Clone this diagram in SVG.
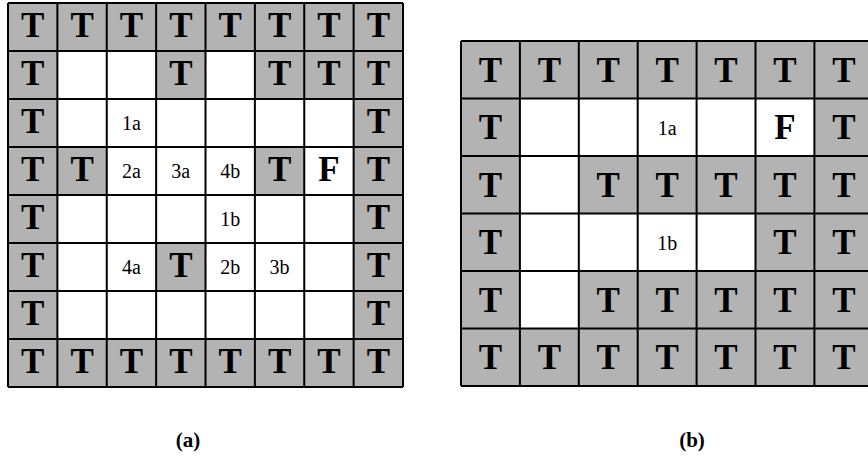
<svg xmlns="http://www.w3.org/2000/svg" width="868" height="456" viewBox="0 0 868 456">
<style>
.bg{fill:#ffffff}
.g{fill:#b3b3b3}
.ln{fill:none;stroke:#000;stroke-width:2}
</style>
<rect width="868" height="456" fill="#fff"/>
<g id="gridA">
<rect class="bg" x="8" y="3" width="395" height="384"/>
<rect class="g" x="8" y="3" width="395" height="48"/>
<rect class="g" x="8" y="339" width="395" height="48"/>
<rect class="g" x="8" y="3" width="49.38" height="384"/>
<rect class="g" x="353.63" y="3" width="49.38" height="384"/>
<rect class="g" x="156.13" y="51" width="49.38" height="48"/>
<rect class="g" x="254.88" y="51" width="148.13" height="48"/>
<rect class="g" x="8" y="147" width="98.75" height="48"/>
<rect class="g" x="254.88" y="147" width="49.38" height="48"/>
<rect class="g" x="156.13" y="243" width="49.38" height="48"/>
<path class="ln" d="M8,3V387M57.38,3V387M106.75,3V387M156.13,3V387M205.5,3V387M254.88,3V387M304.25,3V387M353.63,3V387M403,3V387M8,3H403M8,51H403M8,99H403M8,147H403M8,195H403M8,243H403M8,291H403M8,339H403M8,387H403"/>
<g font-family="Liberation Serif, Times New Roman, serif" font-weight="bold" font-size="35" text-anchor="middle" fill="#000">
<text x="32.69" y="37">T</text><text x="82.06" y="37">T</text><text x="131.44" y="37">T</text><text x="180.81" y="37">T</text><text x="230.19" y="37">T</text><text x="279.56" y="37">T</text><text x="328.94" y="37">T</text><text x="378.31" y="37">T</text>
<text x="32.69" y="85">T</text><text x="180.81" y="85">T</text><text x="279.56" y="85">T</text><text x="328.94" y="85">T</text><text x="378.31" y="85">T</text>
<text x="32.69" y="133">T</text><text x="378.31" y="133">T</text>
<text x="32.69" y="181">T</text><text x="82.06" y="181">T</text><text x="279.56" y="181">T</text><text x="328.94" y="181">F</text><text x="378.31" y="181">T</text>
<text x="32.69" y="229">T</text><text x="378.31" y="229">T</text>
<text x="32.69" y="277">T</text><text x="180.81" y="277">T</text><text x="378.31" y="277">T</text>
<text x="32.69" y="325">T</text><text x="378.31" y="325">T</text>
<text x="32.69" y="373">T</text><text x="82.06" y="373">T</text><text x="131.44" y="373">T</text><text x="180.81" y="373">T</text><text x="230.19" y="373">T</text><text x="279.56" y="373">T</text><text x="328.94" y="373">T</text><text x="378.31" y="373">T</text>
</g>
<g font-family="Liberation Serif, Times New Roman, serif" font-size="20" text-anchor="middle" fill="#000">
<text x="131.44" y="130">1a</text>
<text x="131.44" y="178">2a</text><text x="180.81" y="178">3a</text><text x="230.19" y="178">4b</text>
<text x="230.19" y="226">1b</text>
<text x="131.44" y="274">4a</text><text x="230.19" y="274">2b</text><text x="279.56" y="274">3b</text>
</g>
<text x="188" y="447" font-family="Liberation Serif, Times New Roman, serif" font-weight="bold" font-size="21" text-anchor="middle">(a)</text>
</g>
<g id="gridB">
<rect class="bg" x="461" y="41" width="412.3" height="345"/>
<rect class="g" x="461" y="41" width="412.3" height="57.5"/>
<rect class="g" x="461" y="328.5" width="412.3" height="57.5"/>
<rect class="g" x="461" y="41" width="58.9" height="345"/>
<rect class="g" x="814.4" y="41" width="58.9" height="345"/>
<rect class="g" x="578.8" y="156" width="294.5" height="57.5"/>
<rect class="g" x="755.5" y="213.5" width="58.9" height="57.5"/>
<rect class="g" x="578.8" y="271" width="294.5" height="57.5"/>
<path class="ln" d="M461,41V386M519.9,41V386M578.8,41V386M637.7,41V386M696.6,41V386M755.5,41V386M814.4,41V386M873.3,41V386M461,41H873.3M461,98.5H873.3M461,156H873.3M461,213.5H873.3M461,271H873.3M461,328.5H873.3M461,386H873.3"/>
<g font-family="Liberation Serif, Times New Roman, serif" font-weight="bold" font-size="35" text-anchor="middle" fill="#000">
<text x="490.45" y="81.75">T</text><text x="549.35" y="81.75">T</text><text x="608.25" y="81.75">T</text><text x="667.15" y="81.75">T</text><text x="726.05" y="81.75">T</text><text x="784.95" y="81.75">T</text><text x="843.85" y="81.75">T</text>
<text x="490.45" y="139.25">T</text><text x="784.95" y="139.25">F</text><text x="843.85" y="139.25">T</text>
<text x="490.45" y="196.75">T</text><text x="608.25" y="196.75">T</text><text x="667.15" y="196.75">T</text><text x="726.05" y="196.75">T</text><text x="784.95" y="196.75">T</text><text x="843.85" y="196.75">T</text>
<text x="490.45" y="254.25">T</text><text x="784.95" y="254.25">T</text><text x="843.85" y="254.25">T</text>
<text x="490.45" y="311.75">T</text><text x="608.25" y="311.75">T</text><text x="667.15" y="311.75">T</text><text x="726.05" y="311.75">T</text><text x="784.95" y="311.75">T</text><text x="843.85" y="311.75">T</text>
<text x="490.45" y="369.25">T</text><text x="549.35" y="369.25">T</text><text x="608.25" y="369.25">T</text><text x="667.15" y="369.25">T</text><text x="726.05" y="369.25">T</text><text x="784.95" y="369.25">T</text><text x="843.85" y="369.25">T</text>
</g>
<g font-family="Liberation Serif, Times New Roman, serif" font-size="20" text-anchor="middle" fill="#000">
<text x="667.15" y="134.5">1a</text>
<text x="667.15" y="249.5">1b</text>
</g>
<text x="692" y="447" font-family="Liberation Serif, Times New Roman, serif" font-weight="bold" font-size="21" text-anchor="middle">(b)</text>
</g>
</svg>
